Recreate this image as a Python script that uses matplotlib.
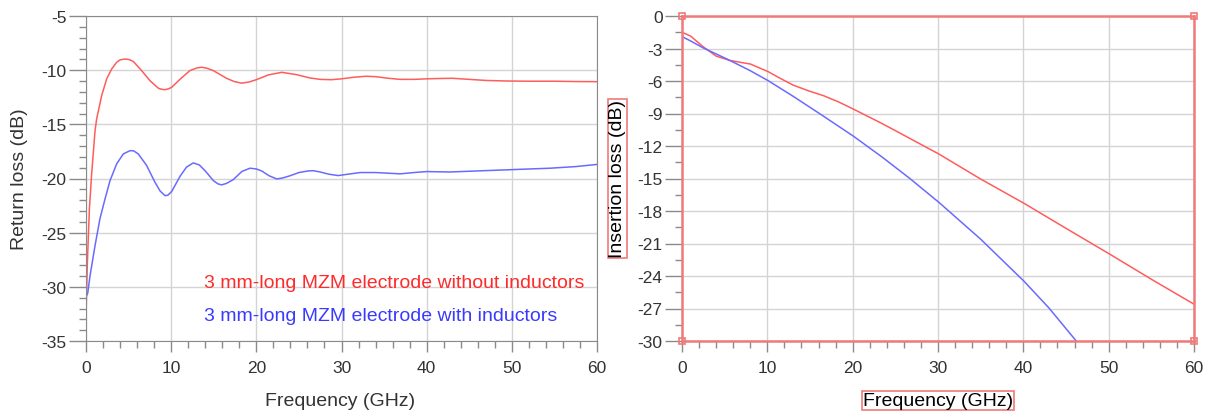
import numpy as np
import matplotlib
matplotlib.use("Agg")
import matplotlib.pyplot as plt
from matplotlib.ticker import MultipleLocator

plt.rcParams['font.family'] = ['Liberation Sans', 'DejaVu Sans']
plt.rcParams['axes.unicode_minus'] = False

# ---- Return loss data (left) ----
rl_f_red = [0, 0.15, 0.4, 0.67, 1.06, 1.25, 1.84, 2.43, 3.01, 3.6, 4.0, 4.58, 5.1, 5.56, 6.53,
            7.51, 8.5, 8.9, 9.27, 9.7, 10.06, 11.04, 12.2, 13.0, 13.58, 14.2, 14.95, 16.5, 17.4,
            18.28, 19.1, 20.04, 21.4, 22.98, 24.7, 26.3, 27.5, 28.8, 30, 31.5, 32.9, 34, 35.5,
            36.9, 38.5, 40, 41.5, 43, 45, 47, 49.4, 52, 55, 57.5, 60]
rl_v_red = [-32.8, -28, -22.8, -19.5, -15.6, -14.5, -12.35, -10.8, -9.9, -9.27, -9.05, -8.97,
            -9.03, -9.2, -10.04, -10.97, -11.67, -11.77, -11.8, -11.72, -11.58, -10.84, -10.04,
            -9.8, -9.73, -9.82, -10.04, -10.75, -11.05, -11.2, -11.1, -10.87, -10.44, -10.2,
            -10.41, -10.72, -10.85, -10.88, -10.8, -10.65, -10.56, -10.6, -10.75, -10.85,
            -10.85, -10.8, -10.77, -10.75, -10.85, -10.95, -11.0, -11.02, -11.02, -11.05, -11.06]

rl_f_blue = [0, 0.2, 0.47, 1.06, 1.64, 2.23, 2.82, 3.6, 4.38, 5.17, 5.6, 6.14, 7.12, 8.1, 8.7,
             9.27, 9.6, 10.06, 11.04, 11.8, 12.6, 13.3, 13.97, 14.95, 15.5, 15.93, 16.5, 17.3,
             18.3, 19.26, 20.0, 20.63, 21.5, 22.4, 23.1, 23.95, 25.0, 26.1, 26.7, 27.5, 28.5,
             29.6, 30.8, 32.2, 34, 36.9, 38.5, 40, 42.7, 46, 49.4, 54.5, 57.5, 60]
rl_v_blue = [-30.9, -30.6, -29.0, -26.2, -23.7, -21.9, -20.2, -18.65, -17.73, -17.43, -17.45,
             -17.73, -18.8, -20.35, -21.15, -21.58, -21.55, -21.2, -19.8, -18.95, -18.56, -18.75,
             -19.27, -20.19, -20.5, -20.59, -20.45, -20.1, -19.35, -19.05, -19.12, -19.3, -19.75,
             -20.04, -19.95, -19.75, -19.45, -19.3, -19.28, -19.4, -19.6, -19.73, -19.6, -19.45,
             -19.45, -19.57, -19.45, -19.36, -19.4, -19.3, -19.2, -19.05, -18.9, -18.7]

# ---- Insertion loss data (right) ----
il_f_red = [0, 1, 2.5, 4, 5.6, 7, 8, 10.1, 11.5, 13, 14.8, 16.6, 18.4, 20.1, 23.5, 26.7, 30.1,
            35, 40.1, 45, 50.1, 55, 60]
il_v_red = [-1.5, -1.85, -2.85, -3.7, -4.1, -4.3, -4.43, -5.14, -5.75, -6.37, -6.9, -7.36, -7.95,
            -8.6, -9.95, -11.3, -12.74, -15.05, -17.3, -19.6, -21.97, -24.3, -26.6]
il_f_blue = [0, 1, 2.5, 4, 5.6, 8, 10.1, 13, 16.2, 20.1, 23.5, 26.7, 30.1, 35, 40.1, 43, 46.2]
il_v_blue = [-1.9, -2.3, -2.95, -3.5, -4.1, -5.05, -5.97, -7.4, -9.05, -11.1, -13.05, -15.0,
             -17.2, -20.6, -24.5, -26.95, -30]

label_red = "3 mm-long MZM electrode without inductors"
label_blue = "3 mm-long MZM electrode with inductors"

RED = '#ff5c5c'
BLUE = '#6a6aff'
GRID = '#d4d4d4'
SPINE = '#8a8a8a'
TXT = '#333333'

fig = plt.figure(figsize=(12.08, 4.14), dpi=100)
ax1 = fig.add_axes([86/1208, 1-342/414, 511/1208, 325/414])
ax2 = fig.add_axes([682/1208, 1-342/414, 512/1208, 325/414])

for ax in (ax1, ax2):
    ax.set_xlim(0, 60)
    ax.xaxis.set_major_locator(MultipleLocator(10))
    ax.xaxis.set_minor_locator(MultipleLocator(2))
    ax.grid(True, which='major', color=GRID, lw=1)
    ax.tick_params(axis='both', which='both', direction='out', colors=SPINE,
                   labelcolor=TXT, labelsize=12.5)
    ax.tick_params(axis='y', which='major', length=12, width=1, pad=2)
    ax.tick_params(axis='y', which='minor', length=5, width=1)
    ax.tick_params(axis='x', which='major', length=8, width=1, pad=6)
    ax.tick_params(axis='x', which='minor', length=5, width=1)
    ax.set_axisbelow(True)

# Left
ax1.set_ylim(-35, -5)
ax1.yaxis.set_major_locator(MultipleLocator(5))
ax1.yaxis.set_minor_locator(MultipleLocator(1))
for s in ax1.spines.values():
    s.set_color(SPINE)
ax1.plot(rl_f_red, rl_v_red, color=RED, lw=1.1)
ax1.plot(rl_f_blue, rl_v_blue, color=BLUE, lw=1.1)
ax1.text(204/1208, 1-283/414, label_red, transform=fig.transFigure, color='#ff2a2a',
         fontsize=14, va='center', ha='left')
ax1.text(204/1208, 1-317/414, label_blue, transform=fig.transFigure, color='#3a3aff',
         fontsize=14, va='center', ha='left')
ax1.set_ylabel("Return loss (dB)", fontsize=14, color=TXT)
ax1.yaxis.set_label_coords(-0.113, 0.5)
ax1.set_xlabel("Frequency (GHz)", fontsize=14, color=TXT)
ax1.xaxis.set_label_coords(0.497, -0.157)

# Right
ax2.set_ylim(-30, 0)
ax2.yaxis.set_major_locator(MultipleLocator(3))
ax2.yaxis.set_minor_locator(MultipleLocator(1.5))
for s in ax2.spines.values():
    s.set_color('#f07a7a')
    s.set_linewidth(1.8)
ax2.plot(il_f_red, il_v_red, color=RED, lw=1.1)
ax2.plot(il_f_blue, il_v_blue, color=BLUE, lw=1.1)
box = dict(boxstyle='square,pad=0.05', fc='none', ec='#f07a7a', lw=1.2)
ax2.set_ylabel("Insertion loss (dB)", fontsize=14, color='black', bbox=box)
ax2.yaxis.set_label_coords(-0.109, 0.5)
ax2.set_xlabel("Frequency (GHz)", fontsize=14, color='black', bbox=box)
ax2.xaxis.set_label_coords(0.5, -0.157)
ax2.plot([0, 1, 0, 1], [0, 0, 1, 1], ls='none', marker='s', ms=5, mfc='none',
         mec='#f07a7a', mew=1.2, transform=ax2.transAxes, clip_on=False)

fig.savefig("out.png", dpi=100)
